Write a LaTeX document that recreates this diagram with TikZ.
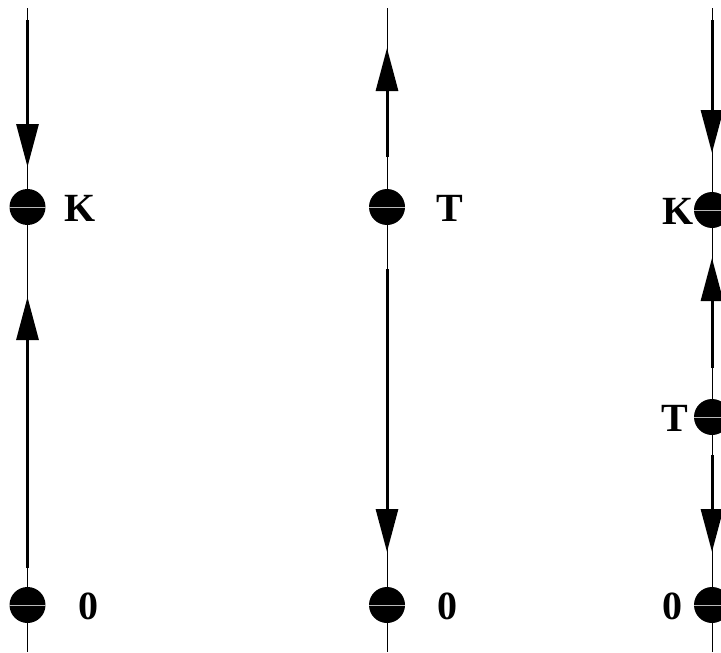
\documentclass[tikz,border=0pt]{standalone}
\usepackage{fontspec}
\setmainfont{Liberation Serif}
\usetikzlibrary{arrows.meta}
\begin{document}
\begin{tikzpicture}[x=1pt,y=-1pt,
  dot/.style={circle,fill=black,draw=none,minimum size=36pt,inner sep=0pt},
  lbl/.style={font=\fontsize{40}{46}\selectfont\bfseries,inner sep=0pt,anchor=center},
  axis/.style={line width=1pt,black},
  flow/.style={line width=3pt,-{Triangle[length=43pt,width=22pt]}},
  seam/.style={gray!55,line width=0.6pt}]
\useasboundingbox (0,0) rectangle (721,653);
% ---------- column 1 ----------
\coordinate (a1top) at (27.5,8);
\coordinate (a1bot) at (27.5,652);
\draw[axis] (a1top) -- (a1bot);
\node[dot] (k1) at (27.5,207) {};
\node[dot] (z1) at (27.5,605) {};
\draw[seam] (k1.west) -- (k1.east);
\draw[seam] (z1.west) -- (z1.east);
\coordinate (a1s) at (27.5,20);
\coordinate (a1t) at (27.5,167);
\draw[flow] (a1s) -- (a1t);
\coordinate (b1s) at (27.5,568);
\coordinate (b1t) at (27.5,297);
\draw[flow] (b1s) -- (b1t);
\node[lbl] (lk1) at (80,208) {K};
\node[lbl] (lz1) at (88,606) {0};
% ---------- column 2 ----------
\coordinate (a2top) at (387,8);
\coordinate (a2bot) at (387,652);
\draw[axis] (a2top) -- (a2bot);
\node[dot] (t2) at (387,207) {};
\node[dot] (z2) at (387,605) {};
\draw[seam] (t2.west) -- (t2.east);
\draw[seam] (z2.west) -- (z2.east);
\coordinate (a2s) at (387,157);
\coordinate (a2t) at (387,48);
\draw[flow] (a2s) -- (a2t);
\coordinate (b2s) at (387,269);
\coordinate (b2t) at (387,552);
\draw[flow] (b2s) -- (b2t);
\node[lbl] (lt2) at (450,208) {T};
\node[lbl] (lz2) at (447,606) {0};
% ---------- column 3 ----------
\coordinate (a3top) at (712,8);
\coordinate (a3bot) at (712,652);
\draw[axis] (a3top) -- (a3bot);
\node[dot] (k3) at (712,210) {};
\node[dot] (t3) at (712,417) {};
\node[dot] (z3) at (712,605) {};
\draw[seam] (k3.west) -- (k3.east);
\draw[seam] (t3.west) -- (t3.east);
\draw[seam] (z3.west) -- (z3.east);
\coordinate (a3s) at (712,20);
\coordinate (a3t) at (712,153);
\draw[flow] (a3s) -- (a3t);
\coordinate (b3s) at (712,368);
\coordinate (b3t) at (712,258);
\draw[flow] (b3s) -- (b3t);
\coordinate (c3s) at (712,455);
\coordinate (c3t) at (712,552);
\draw[flow] (c3s) -- (c3t);
\node[lbl] (lk3) at (678,211) {K};
\node[lbl] (lt3) at (675,418) {T};
\node[lbl] (lz3) at (672,606) {0};
\end{tikzpicture}
\end{document}
